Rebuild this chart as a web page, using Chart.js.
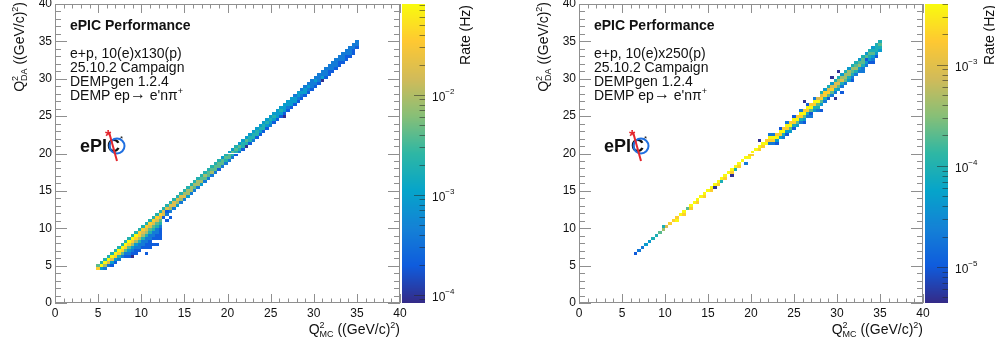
<!DOCTYPE html>
<html>
<head>
<meta charset="utf-8">
<script src="https://cdn.jsdelivr.net/npm/chart.js@4.4.0/dist/chart.umd.min.js"></script>
<style>
html,body{margin:0;padding:0;background:#fff;}
#wrap{position:relative;width:995px;height:345px;overflow:hidden;}
canvas{position:absolute;top:0;}
</style>
</head>
<body>
<div id="wrap">
  <canvas id="left" width="497" height="345" style="left:0;width:497px;height:345px"></canvas>
  <canvas id="right" width="498" height="345" style="left:497px;width:498px;height:345px"></canvas>
</div>
<script>
// Q2_DA vs Q2_MC, 100 x 100 bins on 0-40 (GeV/c)^2
const binW = 0.4;

// ---- left: 10x130 ----
// rate (Hz) for colour level 0..9
const leftLevels = [9e-5, 2e-4, 4e-4, 9e-4, 2e-3, 4e-3, 8.5e-3, 1.8e-2, 3.8e-2, 8e-2];
const leftZRange = [8.3e-5, 8.1e-2];
// one string per Q2_MC bin starting at bin 12; characters are levels going down from the diagonal bin
const leftFirstCol = 12;
const leftBand = [
  "58", "493", "4962", "4972", "49731", "49831", "49842", "49852",
  "498521", "4985321", "49863211", "49863211", "48864221", "48764221", "487642211", "4875422111",
  "48754221.1", "487542211.1", "4875422211",
  "4773", "4762", "4762", "4772", "4763", "4762", "4672", "4663", "4662", "4652",
  "4662", "4563", "4652", "4552", "4562", "4552", "4551", "3552", "4542", "3552",
  "3542", "4541", "3542", "3441", "3542", "3441", "3442", "3441", "3431", "3441",
  "3431", "3432", "3431", "3331", "3431", "3331", "3321", "3331", "2331", "3321",
  "2321", "2331", "2321", "2221", "2321", "2221", "2231", "2221", "2211", "2221",
  "2221", "2211", "2221", "2211", "2221", "2211", "221"
];
// isolated bins: [Q2_MC, Q2_DA, level]
const leftExtra = [
  [8.8, 6.3, 0], [9.5, 6.9, 1], [10.4, 6.6, 1], [10.6, 7.5, 1], [11.0, 8.2, 1], [11.6, 8.5, 1],
  [12.0, 9.4, 1], [12.2, 9.8, 1], [13.1, 12.0, 1], [12.7, 11.6, 1], [13.5, 11.6, 1], [13.1, 11.2, 1],
  [22.2, 21.0, 0], [26.5, 25.2, 0], [31.0, 29.7, 0]
];
const leftInfo = ["e+p, 10(e)x130(p)", "25.10.2 Campaign", "DEMPgen 1.2.4"];

// ---- right: 10x250 ----
const rightLevels = [5e-6, 1e-5, 2e-5, 4.5e-5, 9e-5, 2e-4, 4e-4, 9e-4, 1.9e-3, 3.9e-3];
const rightZRange = [4.4e-6, 4.0e-3];
const rightFirstCol = 16;
const rightBand = [
  "1", "2", "2", "3", "3", "4", "4", "5", "6", "7",
  "8", "8", "89", "9", "98", "5", "98", "9", "98", "9",
  "98", "9", "98", "9", "98", "9", "98", "9", "98", "9",
  "98", "9", "9", "89", "98", "9", "98", "98", "89",
  "982", "2982", ".8931", "1983", ".8942", "29831", ".8953", "19842", ".8953", "29842",
  ".89531", "19842", ".89532", "29843", ".79542",
  "47853", "38842", "47853", "37852", "47742", "46753", "36742", "46652", "36643", "46542",
  "45642", "35632", "45542", "35532", "45431", "34532", "44431", "4543"
];
const rightExtra = [
  [9.8, 10.1, 4], [15.8, 15.3, 0], [16.6, 16.1, 4], [17.6, 17.2, 0], [18.3, 17.8, 4], [19.3, 18.7, 2],
  [21.2, 21.8, 0], [22.0, 22.5, 2], [24.9, 23.5, 1], [26.3, 26.9, 0], [27.1, 25.4, 1], [28.0, 25.8, 1],
  [29.0, 27.2, 1], [29.8, 27.5, 0], [29.2, 30.3, 0], [30.1, 30.9, 0], [30.5, 28.3, 1], [31.7, 29.8, 1],
  [33.1, 30.9, 2], [34.2, 32.1, 1], [33.5, 32.6, 1]
];
const rightInfo = ["e+p, 10(e)x250(p)", "25.10.2 Campaign", "DEMPgen 1.2.4"];

// ROOT kBird palette stops
const birdStops = [[53,42,135],[15,92,221],[20,129,214],[6,164,202],[46,183,164],[135,191,119],[209,187,89],[254,200,50],[249,251,14]];
function birdColor(f){
  f = Math.max(0, Math.min(1, f));
  const p = f*8, k = Math.min(7, Math.floor(p)), t = p-k;
  const a = birdStops[k], b = birdStops[k+1];
  return 'rgb(' + a.map((v,i)=>Math.round(v+(b[i]-v)*t)).join(',') + ')';
}

const FONT = "'Liberation Sans', Arial, sans-serif";
Chart.defaults.font.family = FONT;
Chart.defaults.color = '#111';

function fontOf(it){ return (it.bold ? 'bold ' : '') + (it.size || 14) + 'px ' + FONT; }
function drawRich(ctx, parts, x, y, align){
  let w = 0;
  const segs = parts.map(p=>{
    const items = p.stack || [p];
    let pw = 0;
    items.forEach(it=>{ ctx.font = fontOf(it); pw = Math.max(pw, ctx.measureText(it.t).width); });
    w += pw;
    return {items, pw};
  });
  let cx = align === 'right' ? x - w : x;
  ctx.textAlign = 'left';
  ctx.textBaseline = 'alphabetic';
  segs.forEach(s=>{
    s.items.forEach(it=>{ ctx.font = fontOf(it); ctx.fillText(it.t, cx, y + (it.dy || 0)); });
    cx += s.pw;
  });
}
const qTitle = sub => [{t:'Q'}, {stack:[{t:'2', size:9, dy:-6}, {t:sub, size:9, dy:3}]}, {t:' ((GeV/c)'}, {t:'2', size:9, dy:-6}, {t:')'}];

function buildCells(firstCol, band, extra, levels){
  const cells = [];
  band.forEach((col, k)=>{
    const ix = firstCol + k;
    [...col].forEach((c, d)=>{
      if (c === '.') return;
      cells.push({x:(ix+0.5)*binW, y:(ix-d+0.5)*binW, v:levels[+c]});
    });
  });
  extra.forEach(([x, y, c])=>{
    cells.push({x:(Math.floor(x/binW)+0.5)*binW, y:(Math.floor(y/binW)+0.5)*binW, v:levels[c]});
  });
  return cells;
}

function makePanel(id, p){
  const cells = buildCells(p.firstCol, p.band, p.extra, p.levels);

  const panelPlugin = {
    id: 'panel',
    beforeDatasetsDraw(chart){
      const {ctx, chartArea:a, scales:{x, y, z}} = chart;
      ctx.save();
      ctx.beginPath(); ctx.rect(a.left, a.top, a.right-a.left, a.bottom-a.top); ctx.clip();
      chart.data.datasets[0].data.forEach(c=>{
        const x0 = Math.round(x.getPixelForValue(c.x - binW/2)), x1 = Math.round(x.getPixelForValue(c.x + binW/2));
        const y0 = Math.round(y.getPixelForValue(c.y + binW/2)), y1 = Math.round(y.getPixelForValue(c.y - binW/2));
        const f = (z.bottom - z.getPixelForValue(c.v)) / (z.bottom - z.top);
        ctx.fillStyle = birdColor(f);
        ctx.fillRect(x0, y0, x1-x0, y1-y0);
      });
      ctx.restore();
    },
    afterDraw(chart){
      const {ctx, chartArea:a, scales:{x, y, z}} = chart;
      ctx.save();
      // frame + inward ticks on all sides
      ctx.strokeStyle = '#8f8f8f';
      ctx.lineWidth = 1;
      ctx.strokeRect(Math.round(a.left)+0.5, Math.round(a.top)+0.5, Math.round(a.right-a.left)-1, Math.round(a.bottom-a.top)-1);
      ctx.beginPath();
      for (let v = 0; v <= 40; v++){
        const px = Math.round(x.getPixelForValue(v)) + 0.5;
        const lx = v % 5 ? 4.5 : 9;
        ctx.moveTo(px, a.bottom); ctx.lineTo(px, a.bottom - lx);
        ctx.moveTo(px, a.top); ctx.lineTo(px, a.top + lx);
        const py = Math.round(y.getPixelForValue(v)) + 0.5;
        const ly = v % 5 ? 6 : 12;
        ctx.moveTo(a.left, py); ctx.lineTo(a.left + ly, py);
        ctx.moveTo(a.right, py); ctx.lineTo(a.right - ly, py);
      }
      ctx.stroke();

      // colour bar
      const cx0 = a.right + 2, cw = 23;
      for (let py = Math.floor(z.top); py < z.bottom; py++){
        const f = (z.bottom - (py + 0.5)) / (z.bottom - z.top);
        ctx.fillStyle = birdColor(f);
        ctx.fillRect(cx0, py, cw, 1);
      }
      ctx.strokeStyle = 'rgba(40,40,40,0.55)';
      ctx.beginPath();
      const dLo = Math.floor(Math.log10(z.min)), dHi = Math.ceil(Math.log10(z.max));
      const majors = [];
      for (let d = dLo; d <= dHi; d++){
        for (let m = 1; m <= 9; m++){
          const v = m * Math.pow(10, d);
          if (v < z.min || v > z.max) continue;
          const py = Math.round(z.getPixelForValue(v)) + 0.5;
          const len = m === 1 ? 11 : 5.5;
          ctx.moveTo(cx0 + cw - len, py); ctx.lineTo(cx0 + cw, py);
          if (m === 1) majors.push([d, py]);
        }
      }
      ctx.stroke();
      ctx.fillStyle = '#111';
      majors.forEach(([d, py])=>{
        drawRich(ctx, [{t:'10', size:12}, {t:'\u2212' + (-d), size:8, dy:-7}], cx0 + cw + 7, py + 5, 'left');
      });

      // axis titles
      drawRich(ctx, qTitle('MC'), a.right, 334, 'right');
      ctx.save();
      ctx.translate(a.left - 31, a.top - 2);
      ctx.rotate(-Math.PI/2);
      drawRich(ctx, qTitle('DA'), 0, 0, 'right');
      ctx.restore();
      ctx.save();
      ctx.translate(a.right + p.zTitleOff, a.top + 1);
      ctx.rotate(-Math.PI/2);
      drawRich(ctx, [{t:'Rate (Hz)'}], 0, 0, 'right');
      ctx.restore();

      // labels
      const tx = a.left + 15;
      drawRich(ctx, [{t:'ePIC Performance', bold:true}], tx, a.top + 25.5, 'left');
      p.info.forEach((s, k)=> drawRich(ctx, [{t:s}], tx, a.top + 53.5 + 14*k, 'left'));
      drawRich(ctx, [{t:'DEMP ep'}, {t:'\u2192', size:16, dy:-1}, {t:' e\'n\u03c0'}, {t:'+', size:9, dy:-6}], tx, a.top + 95.5, 'left');

      // ePIC logo
      const lx = a.left + 25, ly = a.top + 148;
      drawRich(ctx, [{t:'ePIC', bold:true, size:18}], lx, ly, 'left');
      ctx.strokeStyle = '#1f6fe0';
      ctx.lineWidth = 2;
      ctx.beginPath(); ctx.arc(lx + 37, ly - 6, 7.5, 0, 2*Math.PI); ctx.stroke();
      ctx.strokeStyle = '#e3262d';
      ctx.beginPath(); ctx.moveTo(lx + 29, ly - 20); ctx.lineTo(lx + 37, ly + 9); ctx.stroke();
      ctx.fillStyle = '#e3262d';
      drawRich(ctx, [{t:'*', bold:true, size:16}], lx + 25, ly - 10, 'left');
      ctx.fillStyle = '#111';
      drawRich(ctx, [{t:'*', size:8}], lx + 40, ly - 11, 'left');
      ctx.restore();
    }
  };

  return new Chart(document.getElementById(id), {
    type: 'scatter',
    data: { datasets: [{ data: cells, pointRadius: 0, pointHoverRadius: 0 }] },
    options: {
      responsive: false, animation: false, devicePixelRatio: 1, events: [],
      layout: { padding: p.pad },
      plugins: { legend: {display:false}, tooltip: {enabled:false} },
      scales: {
        x: {
          type: 'linear', min: 0, max: 40,
          ticks: { stepSize: 5, padding: 3, maxRotation: 0, autoSkip: false, font: {size: 12} },
          grid: { display: false, drawTicks: false }, border: { display: false },
          afterFit(s){ s.height = 42; s.paddingLeft = 0; s.paddingRight = 0; }
        },
        y: {
          type: 'linear', min: 0, max: 40,
          ticks: { stepSize: 5, padding: 3, autoSkip: false, font: {size: 12} },
          grid: { display: false, drawTicks: false }, border: { display: false },
          afterFit(s){ s.width = 40; s.paddingTop = 0; s.paddingBottom = 0; }
        },
        z: { type: 'logarithmic', position: 'right', display: false, min: p.zRange[0], max: p.zRange[1] }
      }
    },
    plugins: [panelPlugin]
  });
}

makePanel('left', {
  firstCol: leftFirstCol, band: leftBand, extra: leftExtra, levels: leftLevels, zRange: leftZRange,
  info: leftInfo, pad: {left: 15, right: 97, top: 4, bottom: 0}, zTitleOff: 70
});
makePanel('right', {
  firstCol: rightFirstCol, band: rightBand, extra: rightExtra, levels: rightLevels, zRange: rightZRange,
  info: rightInfo, pad: {left: 42, right: 72, top: 4, bottom: 0}, zTitleOff: 71
});
</script>
</body>
</html>
